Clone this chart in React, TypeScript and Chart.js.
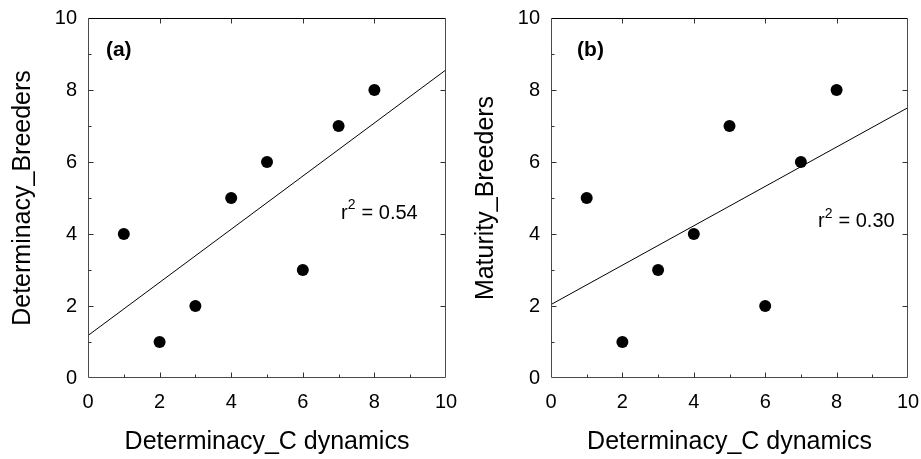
import React, { useEffect, useRef } from "react";
import { Chart, registerables } from "chart.js";

Chart.register(...registerables);

// ---- data ----
const xValues = [1, 2, 3, 4, 5, 6, 7, 8];
const determinacyBreeders = [4, 1, 2, 5, 6, 3, 7, 8];
const maturityBreeders = [5, 1, 3, 4, 7, 2, 6, 8];
const fitX = [0, 10];
const fitA = [1.18, 8.56];
const fitB = [2.04, 7.51];
const axisTicks = [0, 2, 4, 6, 8, 10];
const panelLabels = ["(a)", "(b)"];
const r2Labels = ["0.54", "0.30"];
const xTitle = "Determinacy_C dynamics";
const yTitles = ["Determinacy_Breeders", "Maturity_Breeders"];

const FONT = '"Liberation Sans", Arial, Helvetica, sans-serif';

const framePlugin = {
  id: "frame",
  afterDatasetsDraw(chart: any) {
    const { ctx, chartArea, scales } = chart;
    const { left, right, top, bottom } = chartArea;
    const x = scales.x;
    const y = scales.y;
    ctx.save();
    ctx.lineWidth = 1;
    const L = Math.round(left) + 0.5;
    const R = Math.round(right) - 0.5;
    const T = Math.round(top) + 0.5;
    const B = Math.round(bottom) - 0.5;
    ctx.strokeStyle = "#4a4a4a";
    ctx.beginPath();
    ctx.moveTo(R, T);
    ctx.lineTo(R, B);
    ctx.lineTo(L, B);
    ctx.lineTo(L, T);
    ctx.stroke();
    ctx.strokeStyle = "#000";
    ctx.beginPath();
    ctx.moveTo(L, T);
    ctx.lineTo(R, T);
    ctx.stroke();
    ctx.strokeStyle = "#333";
    ctx.beginPath();
    for (let v = 1; v < 10; v++) {
      const major = v % 2 === 0;
      const len = major ? 5 : 3;
      const px = Math.round(x.getPixelForValue(v)) + 0.5;
      const py = Math.round(y.getPixelForValue(v)) + 0.5;
      ctx.moveTo(px, B);
      ctx.lineTo(px, B - len);
      ctx.moveTo(L, py);
      ctx.lineTo(L + len, py);
      if (major) {
        ctx.moveTo(px, T);
        ctx.lineTo(px, T + len);
        ctx.moveTo(R, py);
        ctx.lineTo(R - len, py);
      }
    }
    ctx.stroke();
    ctx.restore();
  },
};

const annotPlugin = {
  id: "annot",
  afterDatasetsDraw(chart: any, _args: any, opts: any) {
    const { ctx, scales } = chart;
    const x = scales.x;
    const y = scales.y;
    ctx.save();
    ctx.fillStyle = "#000";
    ctx.textAlign = "left";
    ctx.textBaseline = "middle";
    ctx.font = `bold 21px ${FONT}`;
    ctx.fillText(opts.label, x.getPixelForValue(opts.labelPos[0]), y.getPixelForValue(opts.labelPos[1]));
    const rx = x.getPixelForValue(opts.r2Pos[0]);
    const ry = y.getPixelForValue(opts.r2Pos[1]);
    ctx.font = `20px ${FONT}`;
    ctx.fillText("r", rx, ry);
    const w1 = ctx.measureText("r").width;
    ctx.font = `14px ${FONT}`;
    ctx.fillText("2", rx + w1, ry - 8);
    const w2 = ctx.measureText("2").width;
    ctx.font = `20px ${FONT}`;
    ctx.fillText("= " + opts.r2, rx + w1 + w2 + 6, ry);
    ctx.restore();
  },
};

type PanelProps = {
  yData: number[];
  fit: number[];
  yTitle: string;
  label: string;
  r2: string;
  labelPos: number[];
  r2Pos: number[];
  yAxisWidth: number;
  rightPad: number;
  yTitlePad: number;
  width: number;
};

function Panel(p: PanelProps) {
  const ref = useRef<HTMLCanvasElement | null>(null);
  useEffect(() => {
    if (!ref.current) return;
    const chart = new Chart(ref.current, {
      type: "scatter",
      data: {
        datasets: [
          {
            data: xValues.map((v, i) => ({ x: v, y: p.yData[i] })),
            backgroundColor: "#000",
            borderColor: "#000",
            pointRadius: 6,
            pointBorderWidth: 0,
          },
          {
            data: fitX.map((v, i) => ({ x: v, y: p.fit[i] })),
            showLine: true,
            borderColor: "#000",
            borderWidth: 1,
            pointRadius: 0,
            fill: false,
          } as any,
        ],
      },
      options: {
        responsive: false,
        animation: false,
        devicePixelRatio: 1,
        layout: { padding: { top: 18, right: p.rightPad, left: 0, bottom: 0 } },
        plugins: {
          legend: { display: false },
          tooltip: { enabled: false },
          annot: { label: p.label, r2: p.r2, labelPos: p.labelPos, r2Pos: p.r2Pos },
        } as any,
        scales: {
          x: {
            type: "linear",
            min: 0,
            max: 10,
            grid: { display: false, drawTicks: false },
            border: { display: false },
            afterBuildTicks: (s: any) => {
              s.ticks = axisTicks.map((v) => ({ value: v }));
            },
            afterFit: (s: any) => {
              s.height = 81;
              s.paddingLeft = 0;
              s.paddingRight = 0;
            },
            ticks: {
              padding: 12,
              color: "#000",
              font: { family: FONT, size: 20 },
              maxRotation: 0,
            },
            title: {
              display: true,
              text: xTitle,
              color: "#000",
              font: { family: FONT, size: 25 },
              padding: { top: 0, bottom: 2 },
            },
          },
          y: {
            type: "linear",
            min: 0,
            max: 10,
            grid: { display: false, drawTicks: false },
            border: { display: false },
            afterBuildTicks: (s: any) => {
              s.ticks = axisTicks.map((v) => ({ value: v }));
            },
            afterFit: (s: any) => {
              s.width = p.yAxisWidth;
              s.paddingTop = 0;
              s.paddingBottom = 0;
            },
            ticks: {
              padding: 11,
              color: "#000",
              font: { family: FONT, size: 20 },
            },
            title: {
              display: true,
              text: p.yTitle,
              color: "#000",
              font: { family: FONT, size: 25 },
              padding: { top: p.yTitlePad, bottom: 0 },
            },
          },
        } as any,
      },
      plugins: [framePlugin, annotPlugin],
    });
    return () => chart.destroy();
  }, []);
  return <canvas ref={ref} width={p.width} height={459} style={{ display: "block" }} />;
}

export default function App() {
  return (
    <div style={{ position: "absolute", left: 0, top: 0, width: 921, height: 459, background: "#fff", display: "flex" }}>
      <Panel
        yData={determinacyBreeders}
        fit={fitA}
        yTitle={yTitles[0]}
        label={panelLabels[0]}
        r2={r2Labels[0]}
        labelPos={[0.5, 9.11]}
        r2Pos={[7.07, 4.58]}
        yAxisWidth={88}
        rightPad={14}
        yTitlePad={8}
        width={460}
      />
      <Panel
        yData={maturityBreeders}
        fit={fitB}
        yTitle={yTitles[1]}
        label={panelLabels[1]}
        r2={r2Labels[1]}
        labelPos={[0.73, 9.11]}
        r2Pos={[7.48, 4.34]}
        yAxisWidth={91}
        rightPad={13}
        yTitlePad={11}
        width={461}
      />
    </div>
  );
}
